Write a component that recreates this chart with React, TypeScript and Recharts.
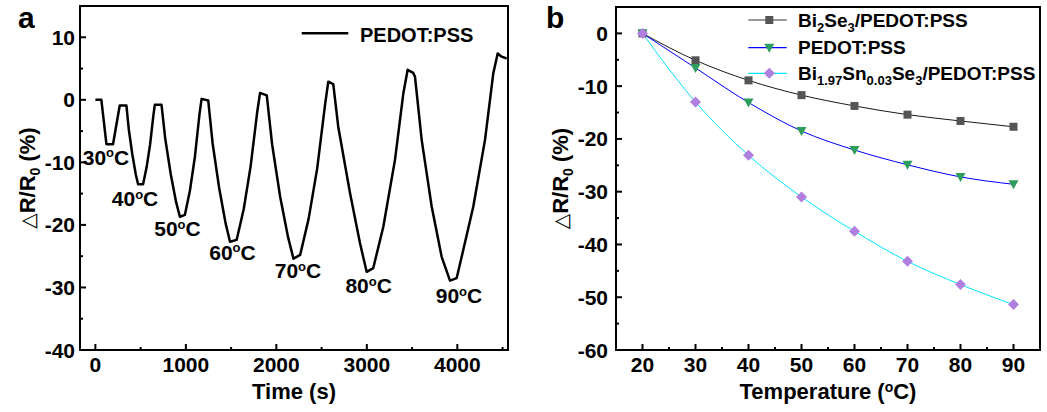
import {
  LineChart,
  Line,
  XAxis,
  YAxis,
  ReferenceArea,
  ReferenceDot,
  Label,
  Legend,
} from "recharts";

const FONT = "'Liberation Sans', Arial, Helvetica, sans-serif";

// panel a: resistance change vs time (PEDOT:PSS, heating cycles)
const timeS = [
  0, 66, 122, 195, 269, 343, 369, 408, 446, 472, 527, 566, 605, 641, 657, 731,
  772, 833, 893, 934, 989, 1045, 1100, 1152, 1174, 1247, 1295, 1368, 1440,
  1488, 1561, 1639, 1716, 1789, 1820, 1894, 1953, 2042, 2130, 2189, 2263,
  2357, 2451, 2538, 2574, 2629, 2684, 2814, 2924, 2998, 3071, 3182, 3311,
  3403, 3451, 3513, 3532, 3606, 3717, 3827, 3919, 3993, 4048, 4176, 4306,
  4397, 4446, 4490, 4545,
];
const dRa = [
  0, 0, -7.1, -7.1, -0.9, -0.9, -4.7, -8.7, -11.9, -13.5, -13.5, -10.8, -7.1,
  -2.5, -0.8, -0.8, -6.2, -11.9, -16.4, -18.7, -18.4, -14.5, -9.1, -2.1, 0.15,
  -0.1, -6.9, -14.1, -19.8, -22.7, -22.4, -17.5, -10.6, -1.9, 1.1, 0.7, -7.1,
  -15.5, -22.0, -25.4, -24.8, -19.0, -11.0, -0.8, 2.9, 2.5, -4.3, -14.9, -22.9,
  -27.5, -26.9, -20.3, -9.6, 1.0, 4.8, 4.3, 3.7, -6.4, -17.1, -25.1, -28.9,
  -28.5, -25.1, -17.1, -6.4, 4.2, 7.4, 6.9, 6.6,
];
const cycleTemps = ["30", "40", "50", "60", "70", "80", "90"];
const cycleLabelT = [117, 438, 907, 1515, 2239, 3020, 4018];
const cycleLabelV = [-10.4, -17.0, -21.8, -25.6, -28.5, -30.9, -32.5];

const aXDomain = [-170, 4560];
const aYDomain = [-40, 15];
const aXTicks = [0, 500, 1000, 1500, 2000, 2500, 3000, 3500, 4000, 4500];
const aXMajor = [0, 1000, 2000, 3000, 4000];
const aYTicks = [-40, -35, -30, -25, -20, -15, -10, -5, 0, 5, 10, 15];
const aYMajor = [-40, -30, -20, -10, 0, 10];

// panel b: resistance change vs temperature
const tempsC = [20, 30, 40, 50, 60, 70, 80, 90];
const bi2se3 = [0, -5.1, -8.9, -11.7, -13.75, -15.4, -16.6, -17.7];
const pedot = [0, -6.55, -13.1, -18.5, -22.1, -24.9, -27.2, -28.6];
const biSn = [0, -13.0, -23.1, -31.0, -37.5, -43.2, -47.6, -51.4];

const bXDomain = [15, 95];
const bYDomain = [-60, 5];
const bXTicks = [20, 25, 30, 35, 40, 45, 50, 55, 60, 65, 70, 75, 80, 85, 90];
const bXMajor = [20, 30, 40, 50, 60, 70, 80, 90];
const bYTicks = [-60, -55, -50, -45, -40, -35, -30, -25, -20, -15, -10, -5, 0, 5];
const bYMajor = [-60, -50, -40, -30, -20, -10, 0];

const timeRows = timeS.map((t, i) => ({ t, v: dRa[i] }));
const tempRows = tempsC.map((t, i) => ({
  t,
  bi2se3: bi2se3[i],
  pedot: pedot[i],
  biSn: biSn[i],
}));

const SQ_COLOR = "#555555";
const TRI_COLOR = "#2e9e5c";
const DIA_COLOR = "#b07fe0";

const textStyle = { fontFamily: FONT, fontWeight: "bold" as const, fill: "#000" };

function makeYTick(majors: number[], margin: number) {
  return (p: any) => {
    const { x, y, payload } = p;
    const v = payload.value;
    const major = majors.includes(v);
    const ax = x + margin;
    return (
      <g>
        <line x1={ax} x2={ax + (major ? 6 : 3)} y1={y} y2={y} stroke="#000" strokeWidth={2} />
        {major && (
          <text x={x} y={y} dy="0.36em" textAnchor="end" fontSize={21} {...textStyle}>
            {v}
          </text>
        )}
      </g>
    );
  };
}

function makeXTick(majors: number[], margin: number) {
  return (p: any) => {
    const { x, y, payload } = p;
    const v = payload.value;
    const major = majors.includes(v);
    const ay = y - margin;
    return (
      <g>
        <line x1={x} x2={x} y1={ay} y2={ay - (major ? 6 : 3)} stroke="#000" strokeWidth={2} />
        {major && (
          <text x={x} y={y} dy="0.71em" textAnchor="middle" fontSize={21} {...textStyle}>
            {v}
          </text>
        )}
      </g>
    );
  };
}

function YTitle({ viewBox, off }: any) {
  const vb = viewBox || { x: 0, y: 0, width: 0, height: 0 };
  const x = vb.x + off;
  const y = vb.y + vb.height / 2;
  return (
    <text
      x={x}
      y={y}
      dy="0.36em"
      textAnchor="middle"
      transform={`rotate(-90 ${x} ${y})`}
      fontSize={22}
      {...textStyle}
    >
      <tspan fontWeight="normal" fontFamily="'DejaVu Sans', sans-serif" fontSize={20}>
        △
      </tspan>
      <tspan>R/R</tspan>
      <tspan dy={5} fontSize={14}>
        0
      </tspan>
      <tspan dy={-5}> (%)</tspan>
    </text>
  );
}

function XTitle({ viewBox, children }: any) {
  const vb = viewBox || { x: 0, y: 0, width: 0, height: 0 };
  return (
    <text x={vb.x + vb.width / 2} y={vb.y + 49} textAnchor="middle" fontSize={22} {...textStyle}>
      {children}
    </text>
  );
}

function Deg({ t }: { t: string }) {
  return (
    <>
      <tspan>{t}</tspan>
      <tspan dy={-7.5} fontSize={13}>
        o
      </tspan>
      <tspan dy={7.5}>C</tspan>
    </>
  );
}

const Square = (p: any) =>
  p.cx == null ? null : (
    <rect key={`s${p.index}`} x={p.cx - 4} y={p.cy - 4} width={8} height={8} fill={SQ_COLOR} />
  );
const TriDown = (p: any) =>
  p.cx == null ? null : (
    <polygon
      key={`t${p.index}`}
      points={`${p.cx - 5},${p.cy - 4} ${p.cx + 5},${p.cy - 4} ${p.cx},${p.cy + 5}`}
      fill={TRI_COLOR}
    />
  );
const Diamond = (p: any) =>
  p.cx == null ? null : (
    <polygon
      key={`d${p.index}`}
      points={`${p.cx},${p.cy - 5.5} ${p.cx + 5.5},${p.cy} ${p.cx},${p.cy + 5.5} ${p.cx - 5.5},${p.cy}`}
      fill={DIA_COLOR}
    />
  );

function LegendA() {
  return (
    <svg width={200} height={40}>
      <line x1={11.7} x2={58.3} y1={18.3} y2={18.3} stroke="#000" strokeWidth={2.5} />
      <text x={70} y={27} fontSize={20} {...textStyle}>
        PEDOT:PSS
      </text>
    </svg>
  );
}

function LegendB() {
  const rows = [
    { y: 15, color: "#333", mark: "sq" },
    { y: 42.7, color: "#0000ff", mark: "tri" },
    { y: 68.3, color: "#00e5ff", mark: "dia" },
  ];
  const mx = 29.3;
  return (
    <svg width={307} height={90}>
      {rows.map((r) => (
        <g key={r.mark}>
          <line x1={8.3} x2={46.7} y1={r.y} y2={r.y} stroke={r.color} strokeWidth={1.2} />
          {r.mark === "sq" && Square({ cx: mx, cy: r.y, index: 0 })}
          {r.mark === "tri" && TriDown({ cx: mx, cy: r.y, index: 0 })}
          {r.mark === "dia" && Diamond({ cx: mx, cy: r.y, index: 0 })}
        </g>
      ))}
      <text x={58} y={15 + 6.5} fontSize={19} {...textStyle}>
        Bi<tspan dy={5} fontSize={13}>2</tspan>
        <tspan dy={-5}>Se</tspan>
        <tspan dy={5} fontSize={13}>3</tspan>
        <tspan dy={-5}>/PEDOT:PSS</tspan>
      </text>
      <text x={58} y={42.7 + 6.5} fontSize={19} {...textStyle}>
        PEDOT:PSS
      </text>
      <text x={58} y={68.3 + 6.5} fontSize={19} {...textStyle}>
        Bi<tspan dy={5} fontSize={13}>1.97</tspan>
        <tspan dy={-5}>Sn</tspan>
        <tspan dy={5} fontSize={13}>0.03</tspan>
        <tspan dy={-5}>Se</tspan>
        <tspan dy={5} fontSize={13}>3</tspan>
        <tspan dy={-5}>/PEDOT:PSS</tspan>
      </text>
    </svg>
  );
}

function PanelA() {
  return (
    <LineChart
      width={520}
      height={412}
      data={timeRows}
      margin={{ top: 6, right: 12, bottom: 0, left: 0 }}
    >
      <XAxis
        dataKey="t"
        type="number"
        domain={aXDomain}
        ticks={aXTicks}
        interval={0}
        height={62}
        tickSize={0}
        tickMargin={7}
        tick={makeXTick(aXMajor, 7)}
        tickLine={false}
        axisLine={{ stroke: "#000", strokeWidth: 2 }}
        allowDataOverflow
      >
        <Label content={(p: any) => <XTitle {...p}>Time (s)</XTitle>} />
      </XAxis>
      <YAxis
        type="number"
        domain={aYDomain}
        ticks={aYTicks}
        interval={0}
        width={80}
        tickSize={0}
        tickMargin={5}
        tick={makeYTick(aYMajor, 5)}
        tickLine={false}
        axisLine={{ stroke: "#000", strokeWidth: 2 }}
        allowDataOverflow
      >
        <Label content={(p: any) => <YTitle {...p} off={27} />} />
      </YAxis>
      <ReferenceArea
        x1={aXDomain[0]}
        x2={aXDomain[1]}
        y1={aYDomain[0]}
        y2={aYDomain[1]}
        fill="none"
        stroke="#000"
        strokeWidth={2}
        ifOverflow="visible"
      />
      <Line
        dataKey="v"
        type="linear"
        stroke="#000"
        strokeWidth={2.5}
        strokeLinejoin="round"
        dot={false}
        isAnimationActive={false}
      />
      {cycleTemps.map((c, i) => (
        <ReferenceDot
          key={c}
          x={cycleLabelT[i]}
          y={cycleLabelV[i]}
          r={0}
          ifOverflow="visible"
          shape={(p: any) => (
            <text x={p.cx} y={p.cy} textAnchor="middle" fontSize={21} {...textStyle}>
              <Deg t={c} />
            </text>
          )}
        />
      ))}
      <Legend
        layout="horizontal"
        verticalAlign="middle"
        align="center"
        wrapperStyle={{ left: 290, top: 15, width: 200, height: 40 }}
        content={() => <LegendA />}
      />
    </LineChart>
  );
}

function PanelB() {
  return (
    <LineChart
      width={527}
      height={412}
      data={tempRows}
      margin={{ top: 7, right: 7, bottom: 0, left: 0 }}
    >
      <XAxis
        dataKey="t"
        type="number"
        domain={bXDomain}
        ticks={bXTicks}
        interval={0}
        height={62}
        tickSize={0}
        tickMargin={7}
        tick={makeXTick(bXMajor, 7)}
        tickLine={false}
        axisLine={{ stroke: "#000", strokeWidth: 2 }}
      >
        <Label
          content={(p: any) => (
            <XTitle {...p}>
              Temperature (<tspan dy={-7.5} fontSize={14}>o</tspan>
              <tspan dy={7.5}>C)</tspan>
            </XTitle>
          )}
        />
      </XAxis>
      <YAxis
        type="number"
        domain={bYDomain}
        ticks={bYTicks}
        interval={0}
        width={96}
        tickSize={0}
        tickMargin={8}
        tick={makeYTick(bYMajor, 8)}
        tickLine={false}
        axisLine={{ stroke: "#000", strokeWidth: 2 }}
      >
        <Label content={(p: any) => <YTitle {...p} off={40} />} />
      </YAxis>
      <ReferenceArea
        x1={bXDomain[0]}
        x2={bXDomain[1]}
        y1={bYDomain[0]}
        y2={bYDomain[1]}
        fill="none"
        stroke="#000"
        strokeWidth={2}
        ifOverflow="visible"
      />
      <Line
        dataKey="bi2se3"
        type="monotone"
        stroke="#1a1a1a"
        strokeWidth={1}
        dot={Square}
        isAnimationActive={false}
      />
      <Line
        dataKey="pedot"
        type="monotone"
        stroke="#0000ff"
        strokeWidth={1}
        dot={TriDown}
        isAnimationActive={false}
      />
      <Line
        dataKey="biSn"
        type="monotone"
        stroke="#00e5ff"
        strokeWidth={1}
        dot={Diamond}
        isAnimationActive={false}
      />
      <Legend
        layout="horizontal"
        verticalAlign="middle"
        align="center"
        wrapperStyle={{ left: 220, top: 5, width: 307, height: 90 }}
        content={() => <LegendB />}
      />
    </LineChart>
  );
}

export default function App() {
  return (
    <div
      style={{
        position: "absolute",
        left: 0,
        top: 0,
        width: 1047,
        height: 412,
        background: "#fff",
        fontFamily: FONT,
      }}
    >
      <div style={{ position: "absolute", left: 0, top: 0 }}>
        <PanelA />
      </div>
      <div style={{ position: "absolute", left: 520, top: 0 }}>
        <PanelB />
      </div>
      <div
        style={{
          position: "absolute",
          left: 18,
          top: 0,
          fontSize: 30,
          fontWeight: "bold",
          lineHeight: "36px",
        }}
      >
        a
      </div>
      <div
        style={{
          position: "absolute",
          left: 546,
          top: 0,
          fontSize: 30,
          fontWeight: "bold",
          lineHeight: "36px",
        }}
      >
        b
      </div>
    </div>
  );
}
